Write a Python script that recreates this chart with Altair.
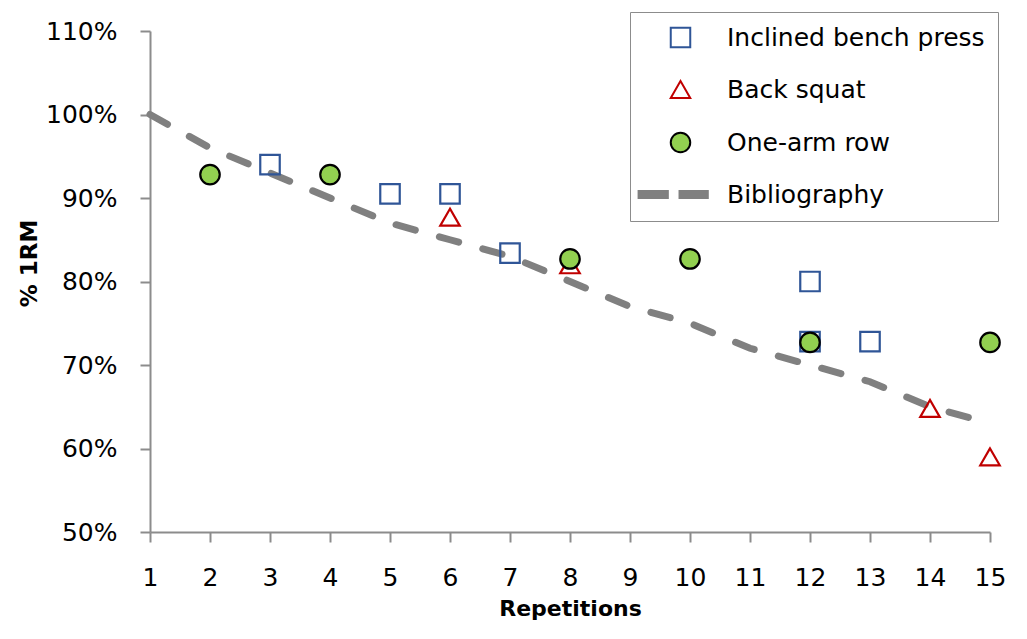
import altair as alt
import pandas as pd

series_names = ["Inclined bench press", "Back squat", "One-arm row", "Bibliography"]

bench_reps = [3, 5, 6, 7, 12, 12, 13]
bench_pct = [0.940, 0.905, 0.905, 0.834, 0.800, 0.728, 0.728]

squat_reps = [6, 8, 14, 15]
squat_pct = [0.877, 0.820, 0.648, 0.590]

row_reps = [2, 4, 8, 10, 12, 15]
row_pct = [0.928, 0.928, 0.827, 0.827, 0.727, 0.727]

biblio_reps = [1, 2, 3, 4, 5, 6, 7, 8, 9, 10, 11, 12, 13, 14, 15]
biblio_pct = [1.00, 0.96, 0.93, 0.90, 0.87, 0.85, 0.83, 0.80, 0.77, 0.75, 0.72, 0.70, 0.68, 0.65, 0.63]

x_ticks = [1, 2, 3, 4, 5, 6, 7, 8, 9, 10, 11, 12, 13, 14, 15]
y_ticks = [0.5, 0.6, 0.7, 0.8, 0.9, 1.0, 1.1]

rows = []
for r, p in zip(bench_reps, bench_pct):
    rows.append({"reps": r, "pct": p, "series": series_names[0]})
for r, p in zip(squat_reps, squat_pct):
    rows.append({"reps": r, "pct": p, "series": series_names[1]})
for r, p in zip(row_reps, row_pct):
    rows.append({"reps": r, "pct": p, "series": series_names[2]})
points_df = pd.DataFrame(rows)
line_df = pd.DataFrame({"reps": biblio_reps, "pct": biblio_pct, "series": series_names[3]})

FONT = "DejaVu Sans"
dash_path = "M-4.3,-0.36H-1.3V0.36H-4.3ZM-0.1,-0.36H2.8V0.36H-0.1Z"

x_enc = alt.X("reps:Q", scale=alt.Scale(domain=[1, 15], nice=False, zero=False),
              axis=alt.Axis(values=x_ticks, title="Repetitions", format="d", labelFlush=False))
y_enc = alt.Y("pct:Q", scale=alt.Scale(domain=[0.5, 1.1], nice=False, zero=False),
              axis=alt.Axis(values=y_ticks, format=".0%", title="% 1RM", titleY=232))

line = alt.Chart(line_df).mark_line(
    color="#808080", strokeWidth=7, strokeDash=[20, 25], strokeCap="round"
).encode(x=x_enc, y=y_enc)

legend = alt.Legend(title=None, orient="none", legendX=480, legendY=-19)

points = alt.Chart(points_df).mark_point(size=380, opacity=1, strokeWidth=2.2).encode(
    x=x_enc, y=y_enc,
    shape=alt.Shape("series:N", scale=alt.Scale(domain=series_names,
                    range=["square", "triangle-up", "circle", dash_path]), legend=legend, sort=series_names),
    stroke=alt.Stroke("series:N", scale=alt.Scale(domain=series_names,
                    range=["#2f5597", "#c00000", "#000000", "#808080"]), legend=legend, sort=series_names),
    fill=alt.Fill("series:N", scale=alt.Scale(domain=series_names,
                    range=["transparent", "transparent", "#92d050", "#808080"]), legend=legend, sort=series_names),
    order=alt.Order("idx:Q"),
).transform_window(idx="row_number()")

chart = alt.layer(line, points).properties(
    width=840, height=501,
    autosize=alt.AutoSizeParams(type="none"),
    padding={"left": 142, "top": 23, "right": 20, "bottom": 95},
).configure_view(stroke=None).configure_axis(
    grid=False, domainColor="#8c8c8c", domainWidth=2, tickColor="#8c8c8c", tickWidth=2,
    tickSize=10, labelFont=FONT, labelFontSize=25, labelColor="#000000",
    titleFont=FONT, titleFontSize=22, titleFontWeight="bold", titleColor="#000000",
).configure_axisX(labelPadding=23, titlePadding=8).configure_axisY(
    labelPadding=23, titlePadding=4, titleFontSize=23
).configure_legend(
    strokeColor="#8c8c8c", padding=13, labelFont=FONT, labelFontSize=25, labelColor="#000000",
    symbolSize=380, symbolStrokeWidth=2, rowPadding=25, symbolOffset=25, labelOffset=34,
    labelLimit=400,
)

chart.save("out.html", embed_options={"renderer": "svg", "actions": False})
